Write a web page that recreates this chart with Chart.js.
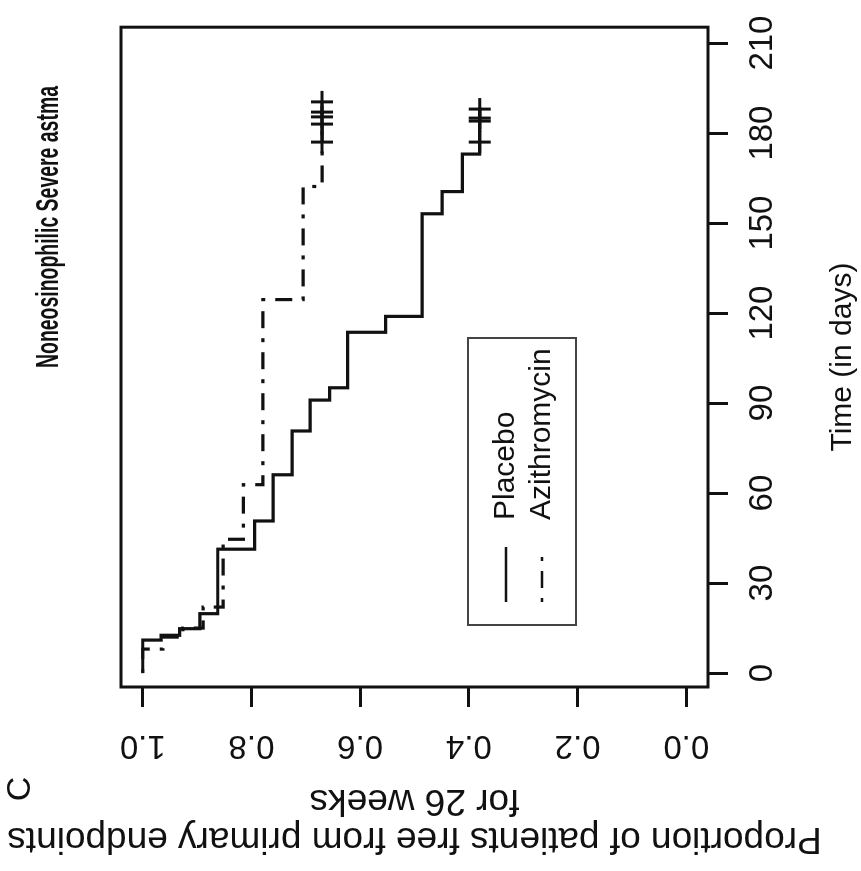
<!DOCTYPE html>
<html>
<head>
<meta charset="utf-8">
<script src="https://cdn.jsdelivr.net/npm/chart.js@4.4.1/dist/chart.umd.min.js"></script>
<style>
  html, body { margin: 0; padding: 0; background: #fff; overflow: hidden; }
  #wrap { position: relative; width: 861px; height: 871px; overflow: hidden; background: #fff; }
  /* the figure is printed turned a quarter turn counter-clockwise */
  #kmChart { position: absolute; left: 0; top: 0; transform-origin: 0 0; transform: translate(0, 871px) rotate(-90deg); }
</style>
</head>
<body>
<div id="wrap"><canvas id="kmChart" width="871" height="861"></canvas></div>
<script>
const chartTitle = 'Noneosinophilic Severe astma';
const panelLetter = 'C';
const xTitle = 'Time (in days)';
const yTitle = ['Proportion of patients free from primary endpoints', 'for 26 weeks'];
const seriesNames = ['Placebo', 'Azithromycin'];

const timeTicks = [0, 30, 60, 90, 120, 150, 180, 210];
const propTicks = [0, 0.2, 0.4, 0.6, 0.8, 1.0];

// Kaplan-Meier steps: time of event and proportion after it
const placeboTimes = [0, 11, 12.6, 14.8, 19.8, 41.3, 50.7, 66.1, 80.7, 91.0, 95.1, 113.6, 118.9, 153.1, 160.5, 173.0, 188];
const placeboSurv = [1, 0.966, 0.932, 0.895, 0.862, 0.794, 0.760, 0.725, 0.692, 0.656, 0.623, 0.553, 0.486, 0.449, 0.412, 0.380, 0.380];
const placeboCensor = [177, 184, 185, 188];

const azithroTimes = [0, 8, 12, 15, 22, 44.6, 62.8, 124.5, 162.2, 190.4];
const azithroSurv = [1, 0.963, 0.926, 0.889, 0.852, 0.815, 0.779, 0.705, 0.670, 0.670];
const azithroCensor = [177, 183, 185.4, 187, 190.4];

const ink = '#111';
const dotDash = [4, 10, 17, 10];

Chart.defaults.font.family = "'Liberation Sans', Arial, sans-serif";
Chart.defaults.color = ink;

function toPoints(xs, ys) {
    return xs.map((x, i) => ({ x: x, y: ys[i] }));
}

function censorPoints(xs, level) {
    return xs.map(x => ({ x: x, y: level }));
}

const decorPlugin = {
    id: 'decor',
    afterDatasetsDraw(chart) {
        const ctx = chart.ctx;
        const a = chart.chartArea;
        ctx.save();
        // box round the plot
        ctx.strokeStyle = ink;
        ctx.lineWidth = 3;
        ctx.setLineDash([]);
        ctx.strokeRect(a.left, a.top, a.right - a.left, a.bottom - a.top);

        // main title, narrow bold
        ctx.fillStyle = ink;
        ctx.font = "bold 31px 'Liberation Sans', Arial, sans-serif";
        ctx.textAlign = 'center';
        ctx.textBaseline = 'middle';
        const w = ctx.measureText(chartTitle).width;
        ctx.save();
        ctx.translate(644, 49);
        ctx.scale(282 / w, 1);
        ctx.fillText(chartTitle, 0, 0);
        ctx.restore();

        // panel letter
        ctx.font = "34px 'Liberation Sans', Arial, sans-serif";
        ctx.fillText(panelLetter, 82, 21);

        // legend box
        ctx.font = "30px 'Liberation Sans', Arial, sans-serif";
        ctx.lineWidth = 2;
        ctx.strokeStyle = '#444';
        ctx.strokeRect(246, 468, 287, 108);
        const rows = [506, 542];
        chart.data.datasets.slice(0, 2).forEach((ds, i) => {
            ctx.beginPath();
            ctx.lineWidth = 2.5;
            ctx.strokeStyle = ink;
            ctx.lineCap = 'butt';
            ctx.setLineDash(ds.borderDash || []);
            ctx.moveTo(269, rows[i]);
            ctx.lineTo(324, rows[i]);
            ctx.stroke();
            ctx.setLineDash([]);
            ctx.textAlign = 'left';
            ctx.fillText(ds.label, 351, rows[i]);
        });
        ctx.restore();
    }
};

const ctx = document.getElementById('kmChart').getContext('2d');
new Chart(ctx, {
    type: 'line',
    plugins: [decorPlugin],
    data: {
        datasets: [
            {
                label: seriesNames[0],
                data: toPoints(placeboTimes, placeboSurv),
                stepped: 'before',
                borderColor: ink,
                borderWidth: 3.2,
                pointRadius: 0,
                fill: false
            },
            {
                label: seriesNames[1],
                data: toPoints(azithroTimes, azithroSurv),
                stepped: 'before',
                borderColor: ink,
                borderWidth: 3.2,
                borderDash: dotDash,
                borderCapStyle: 'butt',
                pointRadius: 0,
                fill: false
            },
            {
                label: 'placebo censored',
                data: censorPoints(placeboCensor, placeboSurv[placeboSurv.length - 1]),
                showLine: false,
                pointStyle: 'cross',
                pointRadius: 11,
                pointBorderWidth: 3,
                pointBorderColor: ink
            },
            {
                label: 'azithromycin censored',
                data: censorPoints(azithroCensor, azithroSurv[azithroSurv.length - 1]),
                showLine: false,
                pointStyle: 'cross',
                pointRadius: 11,
                pointBorderWidth: 3,
                pointBorderColor: ink
            }
        ]
    },
    options: {
        responsive: false,
        devicePixelRatio: 1,
        animation: false,
        events: [],
        layout: {
            padding: { top: 121, right: 23, left: 0, bottom: 0 }
        },
        plugins: {
            legend: { display: false },
            tooltip: { enabled: false }
        },
        scales: {
            x: {
                type: 'linear',
                min: -4.64,
                max: 215.3,
                afterBuildTicks(scale) {
                    scale.ticks = timeTicks.map(v => ({ value: v }));
                },
                afterFit(scale) {
                    scale.height = 153;
                },
                border: { display: false },
                grid: {
                    drawOnChartArea: false,
                    drawTicks: true,
                    tickLength: 20,
                    tickWidth: 3,
                    tickColor: ink
                },
                ticks: {
                    autoSkip: false,
                    maxRotation: 0,
                    padding: 15,
                    font: { size: 33 },
                    color: ink,
                    callback: v => String(v)
                },
                title: {
                    display: true,
                    text: xTitle,
                    font: { size: 30 },
                    color: ink,
                    padding: { top: 0, bottom: 0 }
                }
            },
            y: {
                type: 'linear',
                min: -0.04,
                max: 1.04,
                afterBuildTicks(scale) {
                    scale.ticks = propTicks.map(v => ({ value: v }));
                },
                afterFit(scale) {
                    scale.width = 184;
                },
                border: { display: false },
                grid: {
                    drawOnChartArea: false,
                    drawTicks: true,
                    tickLength: 20,
                    tickWidth: 3,
                    tickColor: ink
                },
                ticks: {
                    autoSkip: false,
                    minRotation: 90,
                    maxRotation: 90,
                    crossAlign: 'center',
                    padding: 15,
                    font: { size: 33 },
                    color: ink,
                    callback: v => v.toFixed(1)
                },
                title: {
                    display: true,
                    text: yTitle,
                    font: { size: 37, lineHeight: 1.03 },
                    color: ink,
                    padding: { top: 14, bottom: 0 }
                }
            }
        }
    }
});
</script>
</body>
</html>
